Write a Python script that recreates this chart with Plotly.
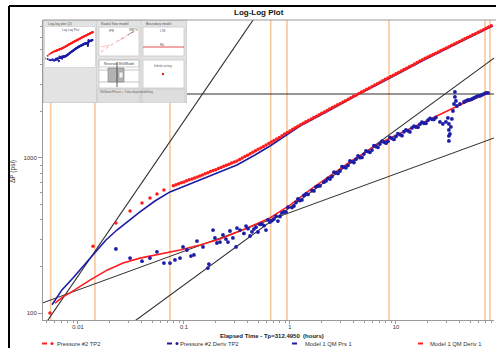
import plotly.graph_objects as go

# ---------------- data ----------------
# Pressure #2 TP2 : pressure change (psi) vs elapsed time (hours)
pres_t = [0.00544, 0.01386, 0.0228, 0.0310, 0.0402, 0.0478, 0.0556, 0.0647,
          0.0794, 0.0891, 0.1, 0.1122, 0.1259, 0.1413, 0.1585, 0.1778, 0.1995, 0.2239,
          0.2512, 0.2818, 0.3162, 0.3548, 0.3981, 0.4467, 0.5012, 0.5623, 0.631, 0.7079,
          0.7943, 0.8913, 1.0, 1.122, 1.259, 1.413, 1.585, 1.778, 1.995, 2.239, 2.512,
          2.818, 3.162, 3.548, 3.981, 4.467, 5.012, 5.623, 6.31, 7.079, 7.943, 8.913,
          10.0, 11.22, 12.59, 14.13, 15.85, 17.78, 19.95, 22.39, 25.12, 28.18, 31.62,
          35.48, 39.81, 44.67, 50.12, 56.23, 63.1, 70.79, 79.43,
          0.08414, 0.09441, 0.1059, 0.1189, 0.1334, 0.1496, 0.1679, 0.1884, 0.2113, 0.2371,
          0.2661, 0.2985, 0.3350, 0.3758, 0.4217, 0.4732, 0.5309, 0.5957, 0.6683, 0.7499,
          0.8414, 0.9441, 1.059, 1.189, 1.334, 1.496, 1.679, 1.884, 2.113, 2.371,
          2.661, 2.985, 3.350, 3.758, 4.217, 4.732, 5.309, 5.957, 6.683, 7.499,
          8.414, 9.441, 10.59, 11.89, 13.34, 14.96, 16.79, 18.84, 21.13, 23.71,
          26.61, 29.85, 33.50, 37.58, 42.17, 47.32, 53.09, 59.57, 66.83, 74.99]
pres_p = [100, 270, 381, 455, 513, 552, 586, 622,
          662, 682, 701, 723, 743, 766, 791, 817, 841, 869,
          897, 927, 957, 1000, 1042, 1089, 1138, 1186, 1239, 1297,
          1358, 1426, 1493, 1567, 1641, 1710, 1786, 1862, 1941, 2023, 2113,
          2203, 2296, 2393, 2500, 2606, 2716, 2831, 2951, 3083, 3214, 3350,
          3491, 3639, 3793, 3954, 4130, 4305, 4477, 4645, 4831, 5023, 5224,
          5433, 5649, 5875, 6109, 6339, 6592, 6855, 7129,
          672, 691, 712, 733, 754, 778, 804, 829, 855, 883,
          912, 942, 978, 1021, 1065, 1113, 1162, 1212, 1268, 1327,
          1392, 1459, 1530, 1604, 1675, 1748, 1824, 1901, 1982, 2068,
          2158, 2249, 2344, 2446, 2553, 2661, 2773, 2891, 3017, 3148,
          3282, 3420, 3565, 3716, 3873, 4042, 4217, 4391, 4561, 4738,
          4927, 5123, 5328, 5541, 5762, 5992, 6224, 6465, 6723, 6992]

# Pressure #2 Deriv TP2
deriv_t = [0.0228, 0.0310, 0.0402, 0.0478, 0.0556, 0.0647, 0.0738, 0.0822, 0.0917, 0.098,
           0.1067, 0.1164, 0.1242, 0.1327, 0.1512, 0.168, 0.172, 0.188, 0.196, 0.2047,
           0.2188, 0.2333, 0.2489, 0.260, 0.2716, 0.2897, 0.3097, 0.3162, 0.3375,
           0.368, 0.385, 0.402, 0.420, 0.438, 0.457, 0.478, 0.499, 0.521, 0.544, 0.569,
           0.594, 0.620, 0.648, 0.676, 0.706, 0.738, 0.770, 0.805, 0.841, 0.878, 0.917,
           0.958, 1.044, 1.091, 1.140, 1.189, 1.243, 1.297, 1.355, 1.416, 1.479, 1.613,
           1.683, 1.758, 1.837, 1.919, 2.094, 2.188, 2.282, 2.489, 2.716, 2.963, 3.228,
           3.524, 3.846, 4.198, 4.571, 4.989, 5.445, 5.943, 6.471, 7.063, 7.709, 8.414,
           9.162, 10.0, 10.91, 11.89, 12.97, 14.16, 15.45, 16.83, 18.37, 20.04, 21.88,
           23.82, 26.0, 27.7, 29.6, 30.9, 31.6, 31.6, 31.6, 31.6, 32.3, 33.0, 33.7,
           34.5, 35.3, 36.0, 36.0, 36.8, 37.6, 40.2, 43.8, 47.8, 52.1, 56.9, 62.0,
           67.6, 73.8,
           2.385, 2.600, 2.838, 3.097, 3.373, 3.683, 4.018, 4.385, 4.777, 5.212,
           5.687, 6.194, 6.761, 7.379, 8.054, 8.770, 9.572, 10.44, 11.40, 12.42,
           13.55, 14.79, 16.14, 17.58, 19.19, 20.94, 22.80,
           45.7, 49.9, 54.4, 59.4, 64.7, 70.6]
deriv_p = [259, 226, 216, 226, 248, 210, 210, 220, 226, 267,
           255, 233, 237, 291, 267, 195, 207, 343, 305, 283,
           287, 319, 300, 287, 338, 305, 267, 353, 343,
           326, 364, 350, 314, 334, 348, 358, 333, 373, 375, 366,
           343, 399, 386, 394, 404, 422, 392, 419, 442, 449, 448,
           481, 479, 490, 516, 544, 532, 536, 573, 586, 582, 616,
           613, 652, 660, 660, 698, 711, 739, 759, 803, 824, 872,
           896, 947, 982, 1004, 1060, 1100, 1125, 1186, 1231, 1266, 1281,
           1338, 1376, 1413, 1476, 1496, 1562, 1583, 1652, 1675, 1751, 1775,
           1825, 1708, 1658, 1708, 1812, 1658, 1516, 1387, 1288, 1428, 1585, 1785,
           2010, 2230, 2475, 2666, 2332, 2165, 2230, 2297, 2367, 2402, 2475, 2512,
           2588, 2627,
           732, 810, 795, 880, 865, 956, 935, 1032, 1009, 1111,
           1088, 1199, 1172, 1285, 1246, 1360, 1317, 1437, 1393, 1518,
           1472, 1606, 1580, 1702, 1675, 1801, 1772,
           2332, 2367, 2438, 2512, 2550, 2627]

# Model 1 QM Prs 1
model_prs_t = [0.00569, 0.00706, 0.00897, 0.0114, 0.01445, 0.01836, 0.02333, 0.02965,
               0.03846, 0.0532, 0.0738, 0.102, 0.1416, 0.2094, 0.3162, 0.4677, 0.6475,
               0.897, 1.243, 2.385, 4.386, 8.77, 17.58, 38.46, 82.2]
model_prs_p = [113, 141, 168, 204, 248, 296, 343, 392,
               449, 528, 604, 659, 721, 812, 901, 1045, 1195,
               1387, 1608, 2041, 2570, 3281, 4225, 5521, 7112]

# Model 1 QM Deriv 1
model_der_t = [0.00607, 0.00721, 0.00841, 0.01045, 0.01297, 0.01879, 0.0266, 0.0385,
               0.0594, 0.0917, 0.1416, 0.2188, 0.376, 0.6475, 1.0, 1.545, 2.385,
               3.683, 7.063, 13.55, 24.37, 41.95, 73.8]
model_der_p = [116, 127, 135, 149, 163, 189, 210, 226,
               240, 255, 275, 300, 348, 410, 497, 622, 766,
               942, 1250, 1538, 1866, 2229, 2626]

# straight-line analysis lines (two end points each)
unit_slope_t, unit_slope_p = [0.004, 0.6], [69.2, 10380]
quarter_slope_t, quarter_slope_p = [0.004, 100], [112, 1405]
half_slope_t, half_slope_p = [0.004, 100], [30.3, 4803]
level_t, level_p = [0.004, 100], [2588, 2588]

# vertical event markers (hours)
marker_times = [0.00552, 0.01446, 0.0738, 0.658, 0.937, 8.59, 69.2, 77.1]

x_tickvals = [0.01, 0.1, 1, 10]
x_ticktext = ["0.01", "0.1", "1", "10"]
y_tickvals = [100, 1000]
y_ticktext = ["100", "1000"]
legend_names = ["Pressure #2 TP2", "Pressure #2 Deriv TP2", "Model 1 QM Prs 1", "Model 1 QM Deriv 1"]

# ---------------- styling helpers ----------------
W, H = 496, 348
ML, MR, MT, MB = 43, 2, 20, 28
def PX(x):
    return (x - ML) / (W - ML - MR)
def PY(y):
    return (H - MB - y) / (H - MT - MB)

RED = "#ff1c1c"
BLUE = "#1c1ca6"
ORANGE = "#f7c89a"
FONT = "Liberation Sans, Arial, sans-serif"

fig = go.Figure()

# analysis lines
for tt, pp in [(level_t, level_p), (unit_slope_t, unit_slope_p),
               (quarter_slope_t, quarter_slope_p), (half_slope_t, half_slope_p)]:
    fig.add_trace(go.Scatter(x=tt, y=pp, mode="lines",
                             line=dict(color="#2e2e2e", width=1.1),
                             showlegend=False, hoverinfo="skip"))

fig.add_trace(go.Scatter(x=model_prs_t, y=model_prs_p, mode="lines", name=legend_names[2],
                         line=dict(color=BLUE, width=1.6), showlegend=False, hoverinfo="skip"))
fig.add_trace(go.Scatter(x=model_der_t, y=model_der_p, mode="lines", name=legend_names[3],
                         line=dict(color=RED, width=1.6), showlegend=False, hoverinfo="skip"))
fig.add_trace(go.Scatter(x=pres_t, y=pres_p, mode="markers", name=legend_names[0],
                         marker=dict(color=RED, size=3.5, line=dict(width=0)),
                         showlegend=False, hoverinfo="skip"))
fig.add_trace(go.Scatter(x=deriv_t, y=deriv_p, mode="markers", name=legend_names[1],
                         marker=dict(color=BLUE, size=3.8, line=dict(width=0)),
                         showlegend=False, hoverinfo="skip"))

# mini plot inside the inset (x3/y3)
fig.add_trace(go.Scatter(x=pres_t, y=pres_p, mode="markers", xaxis="x3", yaxis="y3",
                         marker=dict(color=RED, size=2), showlegend=False, hoverinfo="skip"))
fig.add_trace(go.Scatter(x=deriv_t, y=deriv_p, mode="markers", xaxis="x3", yaxis="y3",
                         marker=dict(color=BLUE, size=2), showlegend=False, hoverinfo="skip"))

shapes = []
# vertical orange markers (main plot)
for mt in marker_times:
    shapes.append(dict(type="line", xref="x", yref="paper", x0=mt, x1=mt, y0=0, y1=1,
                       line=dict(color=ORANGE, width=1.6), layer="below"))
# mini plot orange markers
for mt in marker_times:
    shapes.append(dict(type="line", xref="x3", yref="y3 domain", x0=mt, x1=mt, y0=0, y1=1,
                       line=dict(color=ORANGE, width=0.8), layer="below"))

# top frame line of the plot area
shapes.append(dict(type="line", xref="paper", yref="paper", x0=0, x1=PX(496), y0=1, y1=1,
                   line=dict(color="#9a9a9a", width=1)))
# outer black frame
shapes.append(dict(type="line", xref="paper", yref="paper", x0=PX(9), x1=PX(9), y0=PY(6), y1=PY(349),
                   line=dict(color="#000", width=2)))
shapes.append(dict(type="line", xref="paper", yref="paper", x0=PX(9), x1=PX(497), y0=PY(6), y1=PY(6),
                   line=dict(color="#000", width=2)))

# ----- inset (drawn on x2/y2 in pixel units) -----
def irect(x0, y0, x1, y1, fill, line="#c9c9c9", lw=0.8):
    shapes.append(dict(type="rect", xref="x2", yref="y2", x0=x0, y0=y0, x1=x1, y1=y1,
                       fillcolor=fill, line=dict(color=line, width=lw), layer="below"))
def iline(x0, y0, x1, y1, color, lw=0.8, dash="solid"):
    shapes.append(dict(type="line", xref="x2", yref="y2", x0=x0, y0=y0, x1=x1, y1=y1,
                       line=dict(color=color, width=lw, dash=dash), layer="below"))

irect(43, 20, 187, 103, "#e3e3e3", "#bdbdbd", 1)
iline(96.5, 20, 96.5, 103, "#cfcfcf")
iline(141, 20, 141, 103, "#cfcfcf")
irect(45, 27, 95, 67, "#ffffff")
irect(99, 27, 139, 56, "#ffffff")
irect(143, 27, 184, 56, "#ffffff")
irect(99, 60, 139, 88, "#ffffff")
irect(143, 60, 184, 88, "#ffffff")
irect(97, 89, 140, 103, "#dedede")
irect(142, 89, 185, 103, "#dedede")
# radial flow model sketch
shapes.append(dict(type="path", xref="x2", yref="y2", layer="below",
                   path="M101,52 L108,47 L116,42 L124,37 L131,33 L137,31",
                   line=dict(color="#f08a8a", width=0.8, dash="dot")))
shapes.append(dict(type="path", xref="x2", yref="y2", layer="below",
                   path="M101,47 L110,45 L118,41 L126,37 L134,34",
                   line=dict(color="#f4a0a0", width=0.7, dash="dash")))
iline(128, 35, 134, 31, "#555", 0.6)
# boundary model
iline(143, 47, 184, 47, "#e03a3a", 0.9)
# reservoir model
irect(99, 60, 139, 67, "#ffffff", "#a8a8a8", 0.6)
iline(99, 70, 139, 70, "#9a9a9a", 0.6)
iline(99, 82, 139, 82, "#9a9a9a", 0.6)
shapes.append(dict(type="rect", xref="x2", yref="y2", x0=108, y0=68, x1=124, y1=82,
                   fillcolor="#b3b3b3", line=dict(color="#7d7d7d", width=0.6), layer="below"))
irect(119, 72, 123, 78, "#f2f2f2", "#888", 0.5)
iline(117, 62, 117, 87, "#333", 0.8)
# infinite acting marker
shapes.append(dict(type="circle", xref="x2", yref="y2", x0=161.8, y0=72.8, x1=164.2, y1=75.2,
                   fillcolor="#e02020", line=dict(width=0), layer="below"))

# legend symbols
LY = 343.5
leg_items = [(42, RED, True), (167, BLUE, True), (292, BLUE, False), (418, RED, False)]
for x0, col, dot in leg_items:
    shapes.append(dict(type="line", xref="paper", yref="paper", x0=PX(x0), x1=PX(x0 + 5),
                       y0=PY(LY), y1=PY(LY), line=dict(color=col, width=2)))
    if dot:
        shapes.append(dict(type="circle", xref="paper", yref="paper", x0=PX(x0 + 8.5), x1=PX(x0 + 11.5),
                           y0=PY(LY + 1.5), y1=PY(LY - 1.5), fillcolor=col, line=dict(width=0)))

annotations = []
def ann(x, y, text, size, ref="paper", xanchor="center", yanchor="middle", color="#333",
        weight="normal", angle=0):
    if ref == "paper":
        xx, yy, xr, yr = PX(x), PY(y), "paper", "paper"
    else:
        xx, yy, xr, yr = x, y, "x2", "y2"
    annotations.append(dict(x=xx, y=yy, xref=xr, yref=yr, text=text, showarrow=False,
                            xanchor=xanchor, yanchor=yanchor, textangle=angle,
                            font=dict(family=FONT, size=size, color=color, weight=weight)))

ann(259, 13, "Log-Log Plot", 8, weight="bold", color="#111")
ann(272, 335.5, "Elapsed Time - Tp=312.4950 \u00a0(hours)", 6, weight="bold", color="#222")
ann(13, 172, "ΔP (psi)", 6.5, angle=-90, color="#333")
leg_text_x = [55, 178, 303, 428]
for lx, name in zip(leg_text_x, legend_names):
    ann(lx, LY, name, 5.8, xanchor="left", color="#333")

# inset labels
ann(46, 23.5, "Log-log plot (2)", 3.5, ref="x2", xanchor="left", color="#555")
ann(70, 29.5, "Log-Log Plot", 3, ref="x2", color="#555")
ann(99, 23.5, "Radial flow model", 3.5, ref="x2", xanchor="left", color="#555")
ann(144, 23.5, "Boundary model", 3.5, ref="x2", xanchor="left", color="#555")
ann(112, 31, "IPR", 3, ref="x2", color="#555")
ann(133, 30, "WRTS", 3, ref="x2", color="#555")
ann(162, 31, "LTB", 3, ref="x2", color="#555")
ann(162, 45, "Rb", 3, ref="x2", color="#555")
ann(119, 63.5, "Reservoir Well/Model", 3.2, ref="x2", color="#444")
ann(163, 66, "Infinite acting", 3, ref="x2", color="#555")
ann(98, 92, "Wellbore/Phase + Time-dependent", 3, ref="x2", xanchor="left", color="#666")
ann(143, 92, "Lifting", 3, ref="x2", xanchor="left", color="#666")

minor_x = [m * 10.0 ** k for k in range(-3, 2) for m in range(2, 10)]
minor_y = [m * 10.0 ** k for k in range(1, 4) for m in range(2, 10)]

fig.update_layout(
    width=W, height=H, autosize=False,
    margin=dict(l=ML, r=MR, t=MT, b=MB, pad=0),
    paper_bgcolor="white", plot_bgcolor="white",
    font=dict(family=FONT, color="#333"),
    showlegend=False,
    xaxis=dict(type="log", range=[-2.330, 1.925], showgrid=False, zeroline=False,
               showline=True, linecolor="#9a9a9a", linewidth=1,
               ticks="outside", ticklen=3, tickcolor="#9a9a9a", tickwidth=1,
               ticklabelstandoff=-2,
               tickmode="array", tickvals=x_tickvals, ticktext=x_ticktext,
               tickfont=dict(size=5.8, color="#333", family=FONT),
               minor=dict(ticks="outside", ticklen=2, tickcolor="#9a9a9a", tickvals=minor_x,
                          showgrid=False)),
    yaxis=dict(type="log", range=[1.955, 3.890], showgrid=False, zeroline=False,
               showline=True, linecolor="#9a9a9a", linewidth=1,
               ticks="outside", ticklen=4, tickcolor="#9a9a9a", tickwidth=1,
               tickmode="array", tickvals=y_tickvals, ticktext=y_ticktext,
               tickfont=dict(size=6, color="#333", family=FONT),
               minor=dict(ticks="outside", ticklen=2, tickcolor="#9a9a9a", tickvals=minor_y,
                          showgrid=False)),
    xaxis2=dict(domain=[0, PX(187)], range=[43, 187], anchor="y2", visible=False,
                fixedrange=True),
    yaxis2=dict(domain=[PY(103), 1.0], range=[103, 20], anchor="x2", visible=False,
                fixedrange=True),
    xaxis3=dict(type="log", domain=[PX(45), PX(95)], range=[-1.85, 2.06], anchor="y3",
                visible=False, fixedrange=True),
    yaxis3=dict(type="log", domain=[PY(67), PY(27)], range=[1.98, 4.12], anchor="x3",
                visible=False, fixedrange=True),
    shapes=shapes,
    annotations=annotations,
)

fig.write_html("out.html")
